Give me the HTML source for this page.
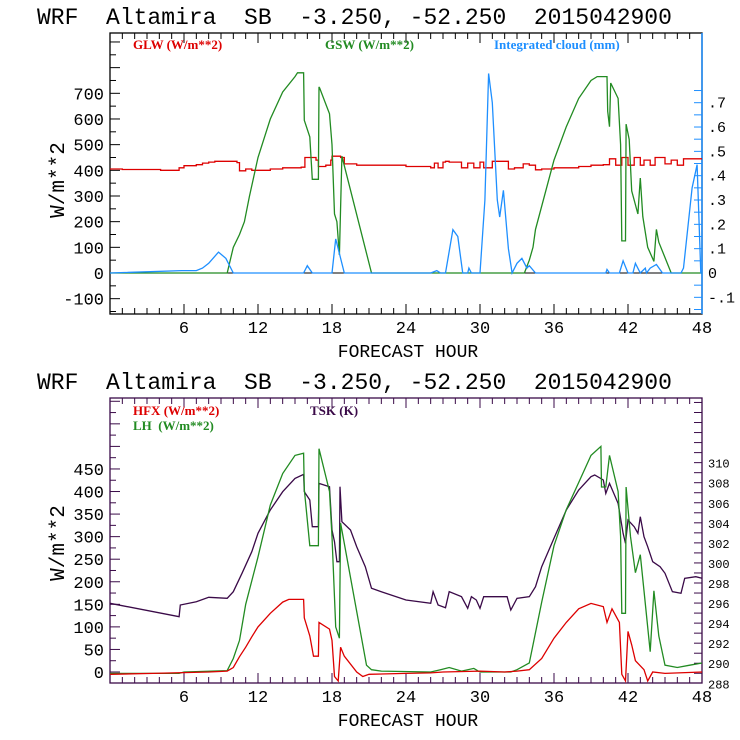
<!DOCTYPE html>
<html><head><meta charset="utf-8"><style>
html,body{margin:0;padding:0;background:#fff;width:740px;height:740px;overflow:hidden}
svg{display:block}
text{font-family:"Liberation Mono",monospace;white-space:pre}
.lg{font-family:"Liberation Serif",serif;font-size:13px;font-weight:bold}
</style></head><body>
<svg id="c" width="740" height="740" viewBox="0 0 740 740" xmlns="http://www.w3.org/2000/svg" xml:space="preserve"></svg>
<script>
// ---------- Top panel data ----------
const glwH=[0,1,4.1,5.6,6,7,7.5,8,8.5,10,10.3,10.5,11,11.5,13,14,15.5,15.8,16.7,16.9,17.5,17.9,18,18.7,19,20,22,24,26,26.3,26.6,27,27.2,27.5,28.5,29,29.5,30,30.3,31,32,32.3,32.8,33.5,34,34.5,35,36,38,39,40,40.5,41,41.5,42,42.5,43,43.3,43.8,44.2,45,45.5,46,46.5,47,48];
const glwV=[405,403,400,410,418,422,428,432,435,435,430,398,405,400,405,410,412,450,440,415,420,440,455,450,425,420,420,415,410,428,410,432,435,432,410,428,410,432,410,435,435,405,410,425,420,402,405,410,415,420,422,445,420,450,420,450,420,440,420,450,425,440,420,445,445,445];
const gswH=[0,9.5,10,10.5,10.9,11.3,12,13,14,15,15.2,15.7,15.75,16.2,16.4,16.9,16.95,17,17.8,18,18.2,18.4,18.6,18.8,21.2,33.6,34,34.3,34.5,36,37,38,39,39.5,40.3,40.35,40.5,40.6,41.2,41.4,41.5,41.8,41.85,42.1,42.3,42.8,43,43.2,43.6,44.1,44.3,44.5,45.5,48];
const gswV=[0,0,100,150,200,298,450,600,705,765,780,780,595,530,365,365,725,720,620,500,230,200,70,455,0,0,50,100,170,440,570,680,750,765,765,630,570,740,680,500,125,125,580,520,320,230,370,220,100,45,170,120,0,0];
const cldH=[0,5.8,7,7.5,8,8.8,9.4,10,15.7,16,16.4,18,18.3,18.5,19,26,26.5,26.8,27.2,27.8,28.2,28.6,29,29.1,29.3,30,30.4,30.7,31,31.4,31.6,31.9,32.3,32.6,33,33.4,33.8,34,34.5,40.2,40.3,40.5,41.3,41.6,42,42.4,42.6,43,43.4,43.5,43.8,44.3,44.8,45.4,46.3,46.5,47.2,47.6,47.9,48];
const cldV=[0,0.01,0.01,0.02,0.04,0.086,0.06,0,0,0.03,0,0,0.14,0.1,0,0,0.01,0,0,0.178,0.15,0,0,0.02,0,0,0.3,0.82,0.7,0.3,0.23,0.34,0.1,0,0.04,0.06,0.02,0.03,0,0,0.015,0,0,0.05,0,0,0.04,0,0.02,0,0.02,0.035,0,0,0,0.02,0.35,0.445,0,0];
const topLeftTicks=[-100,0,100,200,300,400,500,600,700];
const topRightTicks=["-.1","0",".1",".2",".3",".4",".5",".6",".7"];
const xTicks=[6,12,18,24,30,36,42,48];
// ---------- Bottom panel data ----------
const tskH=[0,5.6,5.7,7,8,9.5,10,10.7,11.5,12,13,14,15,15.7,15.75,16.2,16.4,16.9,16.95,17.8,18,18.2,18.4,18.6,18.65,18.8,19.5,20,20.7,21.2,22,24,26,26.2,26.6,27.2,27.5,28.5,29,29.3,29.7,30,30.3,32.2,32.5,33,34,34.5,35,36,37,38,39,39.3,40,40.2,40.5,41.2,41.6,41.8,42,42.5,42.8,43,43.3,43.6,44,44.6,45,45.6,46.3,46.6,47.5,48];
const tskZ=[700,740,705,695,682,685,665,610,545,490,420,365,325,313,365,390,470,470,340,350,480,515,575,575,350,455,480,530,590,655,665,690,700,665,705,713,665,680,715,680,690,715,680,680,720,685,680,650,590,505,420,360,320,315,330,370,340,400,490,520,450,470,490,440,500,530,575,590,610,665,670,625,620,625];
const hfxH=[0,3.5,8,9.5,10,10.5,11,11.5,12,13,14,14.5,15.7,15.75,16.2,16.5,16.9,16.95,17.8,18,18.2,18.5,18.7,19,20,20.5,21,24,26,27,30,32,33,34,35,36,37,38,39,40,40.3,40.7,41.3,41.5,41.8,42,42.3,42.6,43.3,43.6,44,45,48];
const hfxV=[-5,-3,0,2,10,34,55,78,100,130,155,161,161,120,80,35,35,110,95,70,-10,-20,55,35,0,-10,-5,-3,-2,0,2,0,2,5,30,75,110,140,152,145,110,140,110,-5,-20,90,60,25,5,-20,0,-3,0];
const lhH=[0,5.6,6,9.5,10,10.5,11,12,13,14,15,15.7,15.75,16.2,16.9,16.95,17.8,18,18.3,18.6,18.7,20.8,21.2,22,26,26.8,27.5,28.5,29.5,30,32.5,33,34,34.3,35,36,37,38,39,39.8,39.85,40.2,40.5,41.2,41.4,41.5,41.8,41.85,42.2,42.6,43,43.3,43.8,44.1,44.5,45,46,47,48];
const lhV=[-3,-3,0,3,30,70,150,255,370,440,480,485,405,280,280,495,400,300,100,75,330,15,5,2,0,5,10,2,8,0,0,5,20,60,155,280,360,420,480,500,410,410,480,400,300,130,130,410,300,220,260,180,45,180,80,15,10,15,20];
const botLeftTicks=[0,50,100,150,200,250,300,350,400,450];
const botRightTicks=[288,290,292,294,296,298,300,302,304,306,308,310];

const NS="http://www.w3.org/2000/svg";
const svg=document.getElementById('c');
function el(tag,attrs,parent){const e=document.createElementNS(NS,tag);for(const k in attrs)e.setAttribute(k,attrs[k]);(parent||svg).appendChild(e);return e;}
const X0=110,X1=702;
function xs(h){return X0+(X1-X0)*h/48;}

function panel(o){
  const g=el('g',{});
  
  
  const t=el('text',{x:37,y:o.titleY,'font-size':23,fill:'#000'},g);
  t.textContent='WRF  Altamira  SB  -3.250, -52.250  2015042900';
  
  
  const fr=el('rect',{x:X0,y:o.top,width:X1-X0,height:o.bot-o.top,fill:'none',stroke:o.frame,'stroke-width':1.3},g);
  
  
  if(o.rightColor){el('line',{x1:X1,y1:o.top,x2:X1,y2:o.bot,stroke:o.rightColor,'stroke-width':1.5},g);}
  for(let h=1;h<48;h++){const L=(h%6==0)?10:6;const x=xs(h);
    el('line',{x1:x,y1:o.bot,x2:x,y2:o.bot-L,stroke:o.frame,'stroke-width':1},g);
    el('line',{x1:x,y1:o.top,x2:x,y2:o.top+L,stroke:o.frame,'stroke-width':1},g);}
  xTicks.forEach(h=>{const tx=el('text',{x:xs(h),y:o.bot+19,'font-size':17,'text-anchor':'middle',fill:'#000'},g);tx.textContent=h;
    
    });
  const xt=el('text',{x:408,y:o.bot+43,'font-size':18,'text-anchor':'middle',fill:'#000'},g);xt.textContent='FORECAST HOUR';
  
  
  for(let v=o.lMinorStart;v<=o.lMax;v+=o.lMinor){const y=o.ly(v);if(y<o.top+1||y>o.bot-1)continue;
    const L=(Math.round(v)%o.lMajor==0)?10:6;
    el('line',{x1:X0,y1:y,x2:X0+L,y2:y,stroke:o.frame,'stroke-width':1},g);}
  o.lTicks.forEach(v=>{const tx=el('text',{x:X0-6,y:o.ly(v)+6,'font-size':17,'text-anchor':'end',fill:'#000'},g);tx.textContent=v;
    
    });
  const yt=el('text',{x:0,y:0,'font-size':21,'text-anchor':'middle',fill:'#000',transform:`translate(${o.ytX},${o.ytY}) rotate(-90)`},g);yt.textContent='W/m**2';
  
  
  o.rMinorList.forEach(v=>{const y=o.ry(v);if(y<o.top+1||y>o.bot-1)return;
    el('line',{x1:X1,y1:y,x2:X1-8,y2:y,stroke:o.rightColor||o.frame,'stroke-width':1},g);});
  o.rLabels.forEach((lab,i)=>{const tx=el('text',{x:X1+6,y:o.ry(o.rVals[i])+5,'font-size':o.rFont,fill:'#000'},g);tx.textContent=lab;
    
    });
  return g;
}
function series(g,H,V,fy,color,name,step){
  let pts=[];
  H.forEach((h,i)=>{
    if(step&&i>0)pts.push(xs(h).toFixed(1)+','+fy(V[i-1]).toFixed(1));
    pts.push(xs(h).toFixed(1)+','+fy(V[i]).toFixed(1));
  });
  const p=el('polyline',{points:pts.join(' '),fill:'none',stroke:color,'stroke-width':1.3},g);
  
  
}
function legend(g,x,y,txt,color,name){
  const t=el('text',{x:x,y:y,fill:color,class:'lg'},g);t.textContent=txt;
  
  
}
const RED='#dd0000',GREEN='#228b22',BLUE='#1e8fff',PURPLE='#3a0a48';

const tly=v=>273-v*0.2567, tcy=v=>273-v*243.3;
const rv1=[];for(let i=-3;i<=15;i++)rv1.push(i*0.05);
const g1=panel({name:'top-panel',titleY:24,top:33,bot:314,frame:'#000',rightColor:BLUE,
  ly:tly,lTicks:topLeftTicks,lMinorStart:-150,lMax:950,lMinor:50,lMajor:100,ytX:64,ytY:180,
  ry:tcy,rMinorList:rv1,rLabels:topRightTicks,rVals:[-0.1,0,0.1,0.2,0.3,0.4,0.5,0.6,0.7],rFont:15});
el('line',{x1:X0,y1:273,x2:X1,y2:273,stroke:'#000','stroke-width':1},g1);
series(g1,glwH,glwV,tly,RED,'glw-line',true);
series(g1,gswH,gswV,tly,GREEN,'gsw-line',false);
series(g1,cldH,cldV,tcy,BLUE,'cloud-line',false);
legend(g1,133,49,'GLW (W/m**2)',RED,'legend-glw');
legend(g1,325,49,'GSW (W/m**2)',GREEN,'legend-gsw');
legend(g1,494,49,'Integrated cloud (mm)',BLUE,'legend-cloud');

const bly=v=>672-v*0.4512, bry=k=>683.3-(k-288)*10.03;
const rv2=[];for(let k=288;k<=316;k++)rv2.push(k);
const g2=panel({name:'bottom-panel',titleY:389,top:398,bot:683,frame:PURPLE,rightColor:null,
  ly:bly,lTicks:botLeftTicks,lMinorStart:-25,lMax:650,lMinor:25,lMajor:50,ytX:64,ytY:543,
  ry:bry,rMinorList:rv2,rLabels:botRightTicks.map(String),rVals:botRightTicks,rFont:12});
series(g2,tskH,tskZ.map(z=>288+(940-z)/30.1),bry,PURPLE,'tsk-line',false);
series(g2,lhH,lhV,bly,GREEN,'lh-line',false);
series(g2,hfxH,hfxV,bly,RED,'hfx-line',false);
legend(g2,133,415,'HFX (W/m**2)',RED,'legend-hfx');
legend(g2,133,430,'LH  (W/m**2)',GREEN,'legend-lh');
legend(g2,310,415,'TSK (K)',PURPLE,'legend-tsk');
</script>
</body></html>
